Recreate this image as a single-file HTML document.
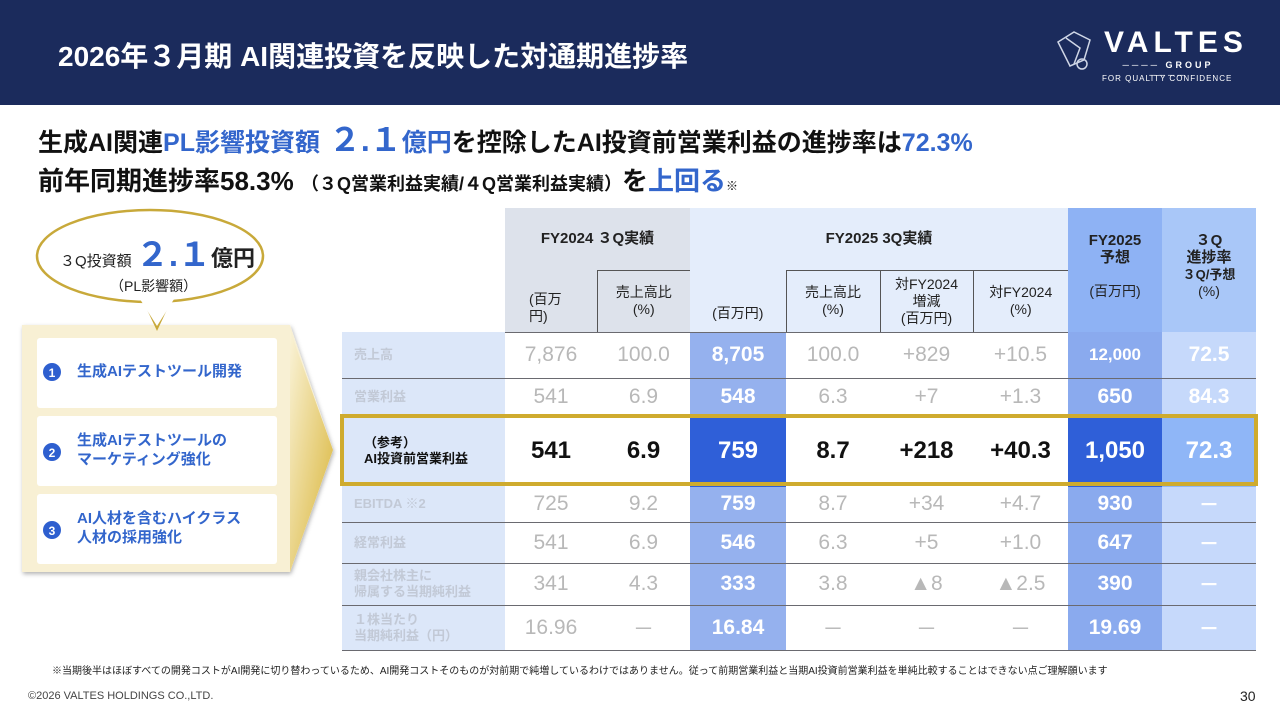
<!DOCTYPE html>
<html><head><meta charset="utf-8">
<style>
*{margin:0;padding:0;box-sizing:border-box}
body{width:1280px;height:720px;position:relative;background:#fff;font-family:"Liberation Sans","Noto Sans CJK JP",sans-serif;overflow:hidden}
.hdr{position:absolute;left:0;top:0;width:1280px;height:105px;background:#1b2b5c}
.ttl{position:absolute;left:58px;top:35px;color:#fff;font-size:28px;font-weight:bold;white-space:nowrap}
.h1{position:absolute;left:38px;top:115px;font-size:25px;font-weight:bold;color:#111;white-space:nowrap}
.h2{position:absolute;left:38px;top:161px;font-size:26px;font-weight:bold;color:#111;white-space:nowrap}
.bl{color:#3366cc}
table{position:absolute;left:342px;top:208px;border-collapse:collapse;table-layout:fixed}
td{padding:0;text-align:center;vertical-align:middle;font-size:21px;color:#b8b8b8}
.hd td{font-size:14px;color:#222;line-height:17px}
.hd .g{font-size:15px;font-weight:bold}
.c24{background:#dde2eb}.c25{background:#e4edfb}.cf{background:#8eb2f4}.cp{background:#a9c7f8}
.lab{background:#dce7f9;text-align:left;padding-left:12px;font-size:13px !important;font-weight:bold;color:#c2c9d6;line-height:16px}
.b1{background:#95b1ee;color:#fff;font-weight:bold}
.bf{background:#8aaaee;color:#fff;font-weight:bold}
.bp{background:#c6d9fb;color:#fff;font-weight:bold}
tr.r td{border-bottom:1.5px solid #6a6a70}
.tl{border-top:1px solid #555}.ll{border-left:1px solid #555}
.hl td{color:#111;font-weight:bold;font-size:24px}
</style></head><body>
<div class="hdr"></div>
<div class="ttl">2026年３月期 AI関連投資を反映した対通期進捗率</div>
<svg style="position:absolute;left:1054px;top:28px" width="42" height="44" viewBox="0 0 42 44"><g fill="none" stroke="#cfd6e6" stroke-width="1.5"><path d="M4 14 L20 4 L36 12 L30 32 L16 38 Z"/><path d="M12 10 L26 20 L20 36"/><circle cx="28" cy="36" r="5"/></g></svg>
<div style="position:absolute;left:1104px;top:27px;color:#fff;font-size:30px;font-weight:bold;letter-spacing:5px;line-height:32px">VALTES</div>
<div style="position:absolute;left:1102px;top:60px;width:132px;color:#fff;font-size:9px;font-weight:bold;letter-spacing:3px;text-align:center;line-height:10px">──── GROUP ────</div>
<div style="position:absolute;left:1102px;top:74px;color:#fff;font-size:8px;letter-spacing:1px;line-height:9px">FOR QUALITY CONFIDENCE</div>

<div class="h1">生成AI関連<span class="bl">PL影響投資額<span style="font-size:32px"> ２.１</span>億円</span>を控除したAI投資前営業利益の進捗率は<span class="bl">72.3%</span></div>
<div class="h2">前年同期進捗率58.3% <span style="font-size:18px">（３Q営業利益実績/４Q営業利益実績）</span>を<span class="bl">上回る</span><span style="font-size:12px">※</span></div>

<svg style="position:absolute;left:0;top:200px" width="345" height="385">
<defs><linearGradient id="gd" x1="0" y1="0" x2="1" y2="1"><stop offset="0" stop-color="#faf3d8"/><stop offset="1" stop-color="#d8b334"/></linearGradient>
<filter id="sh"><feDropShadow dx="1" dy="2" stdDeviation="2" flood-opacity="0.3"/></filter></defs>
<path d="M22 125 H290 L333 250 L290 372 H22 Z" fill="#f8f0d4" filter="url(#sh)"/>
<path d="M290 130 L333 250 L290 372 Z" fill="url(#gd)"/>
<rect x="37" y="138" width="240" height="70" fill="#fff" rx="3"/>
<rect x="37" y="216" width="240" height="70" fill="#fff" rx="3"/>
<rect x="37" y="294" width="240" height="70" fill="#fff" rx="3"/>
<circle cx="52" cy="172" r="9" fill="#2e5fcf"/><circle cx="52" cy="252" r="9" fill="#2e5fcf"/><circle cx="52" cy="330" r="9" fill="#2e5fcf"/>
<text x="52" y="177" fill="#fff" font-size="12" font-weight="bold" text-anchor="middle">1</text>
<text x="52" y="257" fill="#fff" font-size="12" font-weight="bold" text-anchor="middle">2</text>
<text x="52" y="335" fill="#fff" font-size="12" font-weight="bold" text-anchor="middle">3</text>
<path d="M142 96 L157 128 L172 96" fill="#fff" stroke="#c8a93a" stroke-width="2.5"/>
<ellipse cx="150" cy="56" rx="113" ry="46" fill="#fff" stroke="#c8a93a" stroke-width="2.5"/>
<path d="M138 96 L157 126 L176 96 Z" fill="#fff"/>
</svg>
<div style="position:absolute;left:60px;top:228px;font-size:15px;color:#222;white-space:nowrap">３Q投資額 <span style="font-size:33px;font-weight:bold;color:#3366cc">２.１</span><span style="font-size:22px;font-weight:bold">億円</span></div>
<div style="position:absolute;left:110px;top:276px;font-size:14px;color:#222">（PL影響額）</div>
<div style="position:absolute;left:77px;top:362px;font-size:15px;font-weight:bold;color:#3366cc;line-height:19px">生成AIテストツール開発</div>
<div style="position:absolute;left:77px;top:431px;font-size:15px;font-weight:bold;color:#3366cc;line-height:19px">生成AIテストツールの<br>マーケティング強化</div>
<div style="position:absolute;left:77px;top:509px;font-size:15px;font-weight:bold;color:#3366cc;line-height:19px">AI人材を含むハイクラス<br>人材の採用強化</div>

<table>
<colgroup><col style="width:163px"><col style="width:92px"><col style="width:93px"><col style="width:96px"><col style="width:94px"><col style="width:93px"><col style="width:95px"><col style="width:94px"><col style="width:94px"></colgroup>
<tr class="hd" style="height:62px"><td></td><td colspan="2" class="c24 g">FY2024 ３Q実績</td><td colspan="4" class="c25 g">FY2025 3Q実績</td>
<td rowspan="2" class="cf" style="vertical-align:top;padding-top:24px"><b style="font-size:15px">FY2025<br>予想</b><br><br>(百万円)</td>
<td rowspan="2" class="cp" style="vertical-align:top;padding-top:24px"><b style="font-size:15px">３Q<br>進捗率<br><span style="font-size:13px">３Q/予想</span></b><br>(%)</td></tr>
<tr class="hd r" style="height:62px"><td style="border-bottom:none"></td><td class="c24" style="text-align:left;padding:14px 0 0 24px">(百万<br>円)</td><td class="c24 tl ll">売上高比<br>(%)</td>
<td class="c25" style="padding-top:26px">(百万円)</td><td class="c25 tl ll">売上高比<br>(%)</td><td class="c25 tl ll">対FY2024<br>増減<br>(百万円)</td><td class="c25 tl ll">対FY2024<br>(%)</td></tr>
<tr class="r" style="height:46px"><td class="lab">売上高</td><td>7,876</td><td>100.0</td><td class="b1">8,705</td><td>100.0</td><td>+829</td><td>+10.5</td><td class="bf" style="font-size:17px">12,000</td><td class="bp">72.5</td></tr>
<tr style="height:37px"><td class="lab">営業利益</td><td>541</td><td>6.9</td><td class="b1">548</td><td>6.3</td><td>+7</td><td>+1.3</td><td class="bf">650</td><td class="bp">84.3</td></tr>
<tr class="hl" style="height:72px"><td class="lab" style="color:#111;padding-left:22px">（参考）<br>AI投資前営業利益</td><td>541</td><td>6.9</td><td style="background:#2f5fd8;color:#fff">759</td><td>8.7</td><td>+218</td><td>+40.3</td><td style="background:#2f5fd8;color:#fff">1,050</td><td style="background:#8fb6f7;color:#fff">72.3</td></tr>
<tr class="r" style="height:35px"><td class="lab">EBITDA ※2</td><td>725</td><td>9.2</td><td class="b1">759</td><td>8.7</td><td>+34</td><td>+4.7</td><td class="bf">930</td><td class="bp">－</td></tr>
<tr class="r" style="height:41px"><td class="lab">経常利益</td><td>541</td><td>6.9</td><td class="b1">546</td><td>6.3</td><td>+5</td><td>+1.0</td><td class="bf">647</td><td class="bp">－</td></tr>
<tr class="r" style="height:42px"><td class="lab">親会社株主に<br>帰属する当期純利益</td><td>341</td><td>4.3</td><td class="b1">333</td><td>3.8</td><td>▲8</td><td>▲2.5</td><td class="bf">390</td><td class="bp">－</td></tr>
<tr class="r" style="height:45px"><td class="lab">１株当たり<br>当期純利益（円）</td><td>16.96</td><td>－</td><td class="b1">16.84</td><td>－</td><td>－</td><td>－</td><td class="bf">19.69</td><td class="bp">－</td></tr>
</table>
<div style="position:absolute;left:340px;top:414px;width:918px;height:72px;border:4px solid #cfab2e"></div>

<div style="position:absolute;left:52px;top:662px;font-size:10px;color:#222;white-space:nowrap">※当期後半はほぼすべての開発コストがAI開発に切り替わっているため、AI開発コストそのものが対前期で純増しているわけではありません。従って前期営業利益と当期AI投資前営業利益を単純比較することはできない点ご理解願います</div>
<div style="position:absolute;left:28px;top:690px;font-size:11px;color:#444">©2026 VALTES HOLDINGS CO.,LTD.</div>
<div style="position:absolute;left:1240px;top:688px;font-size:14px;color:#222">30</div>
</body></html>
